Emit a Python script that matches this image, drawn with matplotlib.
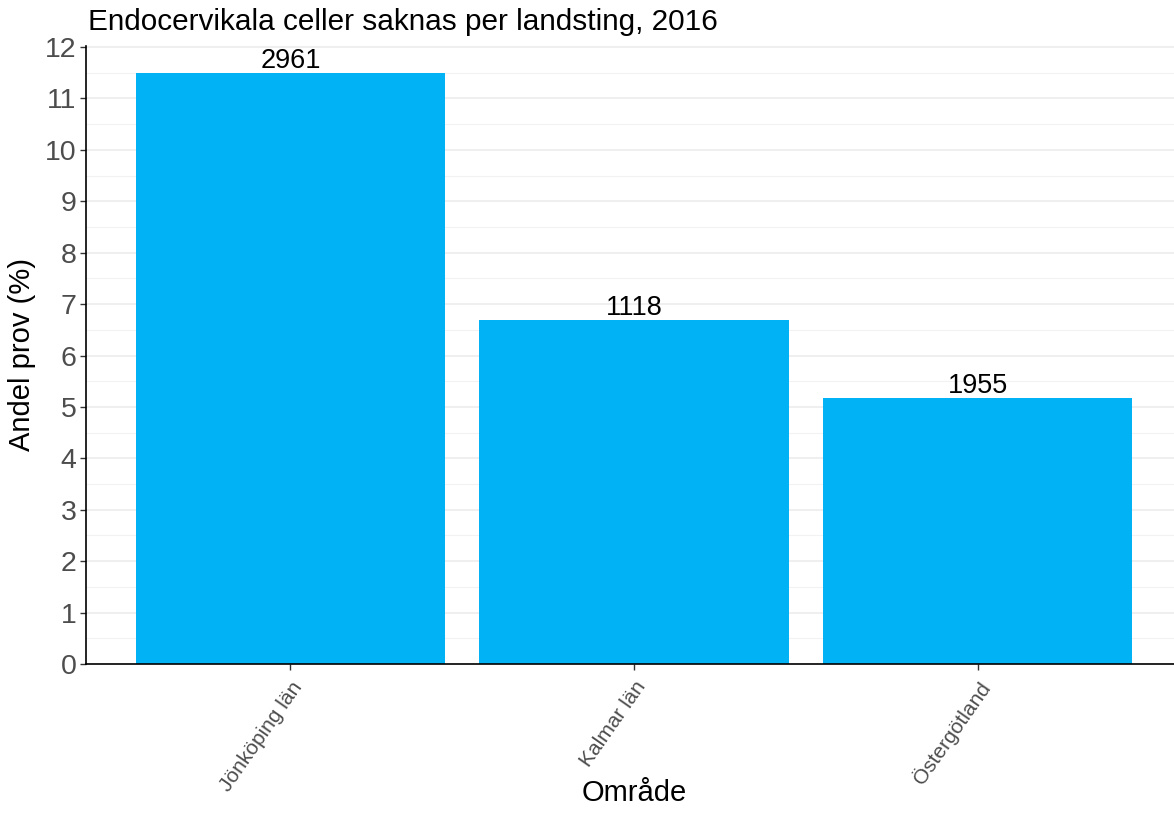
import matplotlib
matplotlib.use("Agg")
import matplotlib.pyplot as plt
from matplotlib.ticker import MultipleLocator
import matplotlib.transforms as mtransforms

plt.rcParams['font.family'] = ['Liberation Sans', 'DejaVu Sans']

categories = ["Jönköping län", "Kalmar län", "Östergötland"]
values = [11.50, 6.69, 5.18]
counts = ["2961", "1118", "1955"]
title = "Endocervikala celler saknas per landsting, 2016"
xlabel = "Område"
ylabel = "Andel prov (%)"

fig = plt.figure(figsize=(11.74, 8.32), dpi=100)
ax = fig.add_axes([86/1174, (832-664)/832, 1 - 86/1174, (664-46)/832])

x = list(range(1, len(categories) + 1))
ax.bar(x, values, width=0.9, color='#01B2F4', zorder=2)
for xi, v, c in zip(x, values, counts):
    ax.text(xi, v - 0.02, c, ha='center', va='bottom', fontsize=19.5, color='black', zorder=3)

ax.set_xlim(1 - (291 - 86) / 344.4, 3 + (1174 - 977) / 344.4)
ax.set_ylim(0, 12.02)
ax.yaxis.set_major_locator(MultipleLocator(1))
ax.yaxis.set_minor_locator(MultipleLocator(0.5))
ax.grid(which='major', axis='y', color='#ebebeb', linewidth=1.1, zorder=0)
ax.grid(which='minor', axis='y', color='#f2f2f2', linewidth=0.8, zorder=0)
ax.set_axisbelow(True)

ax.set_xticks(x)
ax.set_xticklabels(categories, rotation=55, ha='right', va='top', rotation_mode='anchor',
                   fontsize=15, color='#4d4d4d')
ax.tick_params(axis='y', which='major', labelsize=20.5, labelcolor='#4d4d4d', color='#333333', length=4, width=1, pad=3)
ax.tick_params(axis='y', which='minor', length=0)
ax.tick_params(axis='x', color='#333333', length=4, width=1, pad=6)

for s in ['top', 'right']:
    ax.spines[s].set_visible(False)
for s in ['left', 'bottom']:
    ax.spines[s].set_color('black')
    ax.spines[s].set_linewidth(1.2)

ax.set_ylabel(ylabel, fontsize=21, color='black', labelpad=6)
trans = mtransforms.blended_transform_factory(ax.transData, fig.transFigure)
ax.text(2, 1 - 793/832, xlabel, transform=trans, ha='center', va='center', fontsize=21, color='black')
fig.text(88/1174, 1 - 22/832, title, ha='left', va='center', fontsize=21.4, color='black')

fig.savefig("out.png", dpi=100)
